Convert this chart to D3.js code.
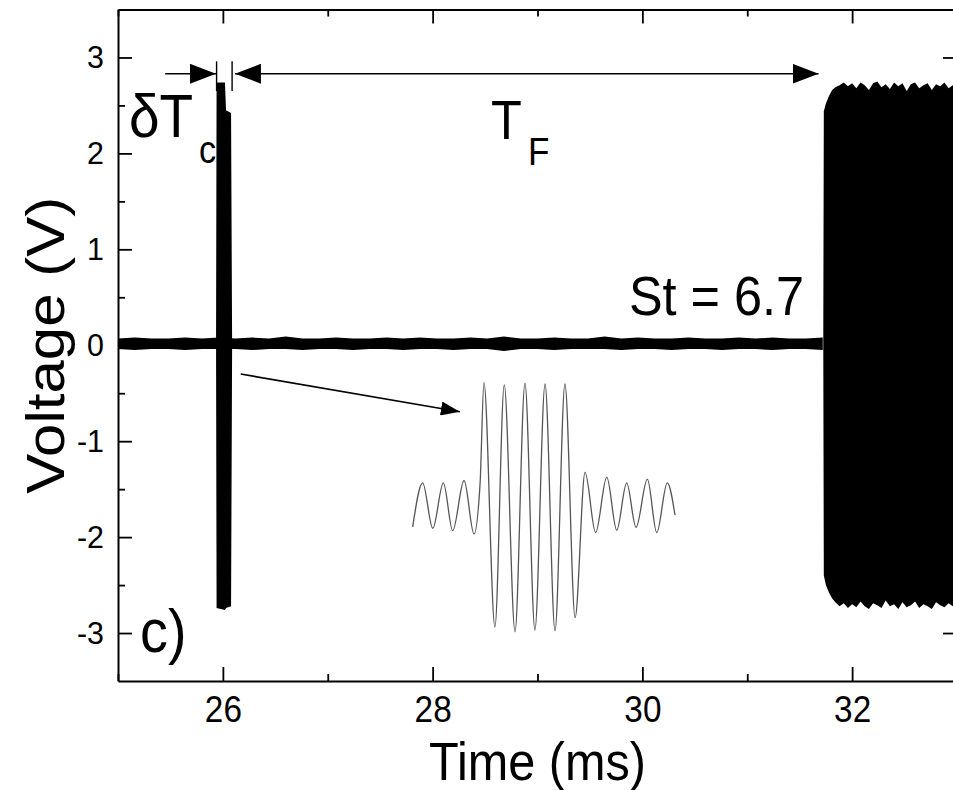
<!DOCTYPE html>
<html>
<head>
<meta charset="utf-8">
<script src="https://cdn.jsdelivr.net/npm/d3@7"></script>
<style>
  html, body { margin: 0; padding: 0; background: #fff; }
  svg { display: block; font-family: "Liberation Sans", Arial, Helvetica, sans-serif; }
</style>
</head>
<body>
<svg id="chart" width="953" height="790"></svg>
<script>
// Axis ticks
const xMajor = [26, 28, 30, 32];
const xMinor = [25, 27, 29, 31, 33];
const yMajor = [-3, -2, -1, 0, 1, 2, 3];
const yMinor = [-2.5, -1.5, -0.5, 0.5, 1.5, 2.5];

// Background noise band before the second burst (ms, V envelope)
const noiseT  = [25.00,25.16,25.32,25.48,25.64,25.80,25.96,26.12,26.28,26.44,26.60,26.76,26.92,27.08,27.24,27.40,27.56,27.72,27.88,28.04,28.20,28.36,28.52,28.68,28.84,29.00,29.16,29.32,29.48,29.64,29.80,29.96,30.12,30.28,30.44,30.60,30.76,30.92,31.08,31.24,31.40,31.56,31.72];
const noiseHi = [0.07,0.08,0.07,0.07,0.08,0.07,0.08,0.07,0.08,0.07,0.09,0.07,0.07,0.08,0.07,0.07,0.08,0.07,0.08,0.07,0.07,0.08,0.07,0.09,0.07,0.07,0.08,0.07,0.07,0.09,0.07,0.08,0.07,0.07,0.08,0.07,0.07,0.08,0.07,0.08,0.07,0.07,0.08];
const noiseLo = [-0.04,-0.05,-0.04,-0.04,-0.05,-0.04,-0.04,-0.04,-0.05,-0.04,-0.04,-0.05,-0.04,-0.04,-0.05,-0.04,-0.04,-0.05,-0.04,-0.04,-0.05,-0.04,-0.04,-0.06,-0.04,-0.04,-0.05,-0.04,-0.04,-0.04,-0.05,-0.04,-0.04,-0.05,-0.04,-0.04,-0.05,-0.04,-0.04,-0.05,-0.04,-0.04,-0.05];

// Short burst near 26 ms (envelope)
const burstCT  = [25.935, 25.94, 26.02, 26.03, 26.078, 26.088];
const burstCHi = [0.05, 2.74, 2.74, 2.45, 2.42, 0.05];
const burstCLo = [-0.04, -2.74, -2.76, -2.74, -2.72, -0.04];

// Long burst from ~31.7 ms (envelope)
const burstFT  = [31.725,31.73,31.75,31.78,31.81,31.84,31.88,31.92,31.96,32.00,32.04,32.08,32.12,32.16,32.20,32.24,32.28,32.32,32.36,32.40,32.44,32.48,32.52,32.56,32.60,32.64,32.68,32.72,32.76,32.80,32.84,32.88,32.92,32.96,33.00,33.05];
const burstFHi = [0.08,2.44,2.52,2.60,2.66,2.69,2.71,2.74,2.70,2.73,2.68,2.74,2.71,2.66,2.73,2.75,2.69,2.72,2.67,2.74,2.70,2.73,2.65,2.72,2.74,2.68,2.71,2.73,2.66,2.72,2.70,2.74,2.68,2.71,2.73,2.70];
const burstFLo = [-0.05,-2.40,-2.50,-2.58,-2.64,-2.68,-2.72,-2.69,-2.74,-2.70,-2.73,-2.67,-2.72,-2.75,-2.69,-2.71,-2.74,-2.66,-2.72,-2.70,-2.75,-2.68,-2.73,-2.71,-2.67,-2.74,-2.70,-2.72,-2.75,-2.68,-2.71,-2.73,-2.69,-2.72,-2.70,-2.74];

// Magnified waveform of the short burst: extrema in periods (t) and volts (v)
const insetT = [0,0.49,0.99,1.51,1.97,2.53,3.02,3.32,3.51,4.05,4.51,5.04,5.53,6.02,6.52,7.01,7.50,8.00,8.49,9.01,9.56,10.05,10.54,11.00,11.56,12.02,12.54,12.92];
const insetV = [-0.42,0.51,-0.45,0.51,-0.50,0.56,-0.57,0.51,2.63,-2.54,2.58,-2.64,2.62,-2.60,2.60,-2.62,2.60,-2.34,0.73,-0.54,0.63,-0.49,0.51,-0.43,0.59,-0.54,0.51,-0.17];

const svg = d3.select("#chart");
const L = 118, R = 957, T = 9.5, B = 681;

const x = d3.scaleLinear().domain([25, 33]).range([L, R]);
const y = d3.scaleLinear().domain([-3.5, 3.5]).range([B, T]);

// horizontally condense text to the narrow face used in the figure
function squish(sel, k) {
  sel.each(function () {
    const w = this.getComputedTextLength();
    d3.select(this).attr("textLength", w * k).attr("lengthAdjust", "spacingAndGlyphs");
  });
}

const defs = svg.append("defs");
defs.append("clipPath").attr("id", "plot")
  .append("rect").attr("x", L).attr("y", T).attr("width", R - L).attr("height", B - T);

function marker(id, len, half) {
  defs.append("marker").attr("id", id)
    .attr("viewBox", `0 ${-half} ${len} ${2 * half}`)
    .attr("markerWidth", len).attr("markerHeight", 2 * half)
    .attr("refX", len).attr("refY", 0)
    .attr("markerUnits", "userSpaceOnUse")
    .attr("orient", "auto-start-reverse")
    .append("path").attr("d", `M0,${-half}L${len},0L0,${half}Z`).attr("fill", "#000");
}
marker("headBig", 26, 10);
marker("headSmall", 19, 7);

// Signal envelopes
const plot = svg.append("g").attr("clip-path", "url(#plot)");
const band = (ts, hi, lo) => d3.area()
  .x((d, i) => x(ts[i])).y0((d, i) => y(lo[i])).y1((d, i) => y(hi[i]))(ts);

plot.append("path").attr("d", band(noiseT, noiseHi, noiseLo)).attr("fill", "#000");
plot.append("path").attr("d", band(burstCT, burstCHi, burstCLo)).attr("fill", "#000");
plot.append("path").attr("d", band(burstFT, burstFHi, burstFLo)).attr("fill", "#000");

// Inset: magnified short burst
const ix = d3.scaleLinear().domain([0, 12.92]).range([412.7, 675]);
const iy = d3.scaleLinear().domain([-2.6, 2.6]).range([630, 384]);
svg.append("path")
  .attr("d", d3.line().x((d, i) => ix(insetT[i])).y((d, i) => iy(insetV[i])).curve(d3.curveMonotoneX)(insetT))
  .attr("fill", "none").attr("stroke", "#555").attr("stroke-width", 1.3);

// Arrow pointing from the burst to the inset
svg.append("line")
  .attr("x1", x(26.17)).attr("y1", y(-0.30)).attr("x2", x(28.26)).attr("y2", y(-0.693))
  .attr("stroke", "#000").attr("stroke-width", 1.6).attr("marker-end", "url(#headSmall)");

// δTc and TF dimension arrows
svg.append("line")
  .attr("x1", x(25.45)).attr("y1", y(2.83)).attr("x2", x(25.934)).attr("y2", y(2.83))
  .attr("stroke", "#000").attr("stroke-width", 1.6).attr("marker-end", "url(#headBig)");
svg.append("line")
  .attr("x1", x(26.115)).attr("y1", y(2.83)).attr("x2", x(31.68)).attr("y2", y(2.83))
  .attr("stroke", "#000").attr("stroke-width", 1.6)
  .attr("marker-start", "url(#headBig)").attr("marker-end", "url(#headBig)");
[25.94, 26.088].forEach(t => {
  svg.append("line")
    .attr("x1", x(t)).attr("x2", x(t)).attr("y1", y(2.96)).attr("y2", y(2.65))
    .attr("stroke", "#000").attr("stroke-width", 1.4);
});

// Axes
function styleAxis(g) {
  g.selectAll("path.domain").attr("stroke", "#000").attr("stroke-width", 2);
  g.selectAll(".tick line").attr("stroke", "#000").attr("stroke-width", 1.8);
}
const fmt = d => String(d);

const gb = svg.append("g").attr("transform", `translate(0,${B})`)
  .call(d3.axisBottom(x).tickValues(xMajor).tickSize(-14).tickSizeOuter(0).tickPadding(15).tickFormat(fmt));
gb.call(styleAxis);
gb.selectAll("text").attr("font-size", 37).attr("fill", "#000").attr("font-family", null);
svg.append("g").attr("transform", `translate(0,${B})`)
  .call(d3.axisBottom(x).tickValues(xMinor).tickSize(-7).tickFormat(""))
  .call(g => g.select(".domain").remove()).call(styleAxis);

const gt = svg.append("g").attr("transform", `translate(0,${T})`)
  .call(d3.axisTop(x).tickValues(xMajor).tickSize(-14).tickSizeOuter(0).tickFormat(""));
gt.call(styleAxis);
svg.append("g").attr("transform", `translate(0,${T})`)
  .call(d3.axisTop(x).tickValues(xMinor).tickSize(-7).tickFormat(""))
  .call(g => g.select(".domain").remove()).call(styleAxis);

const gl = svg.append("g").attr("transform", `translate(${L},0)`)
  .call(d3.axisLeft(y).tickValues(yMajor).tickSize(-14).tickSizeOuter(0).tickPadding(14).tickFormat(fmt));
gl.call(styleAxis);
gl.selectAll("text").attr("font-size", 32).attr("fill", "#000").attr("font-family", null);
svg.append("g").attr("transform", `translate(${L},0)`)
  .call(d3.axisLeft(y).tickValues(yMinor).tickSize(-7).tickFormat(""))
  .call(g => g.select(".domain").remove()).call(styleAxis);

const gr = svg.append("g").attr("transform", `translate(${R},0)`)
  .call(d3.axisRight(y).tickValues(yMajor).tickSize(-14).tickSizeOuter(0).tickFormat(""));
gr.call(styleAxis);
svg.append("g").attr("transform", `translate(${R},0)`)
  .call(d3.axisRight(y).tickValues(yMinor).tickSize(-7).tickFormat(""))
  .call(g => g.select(".domain").remove()).call(styleAxis);

squish(gb.selectAll("text"), 0.9);
squish(gl.selectAll("text"), 0.95);

// Labels and annotations
function label(txt, px, py, size, anchor) {
  const t = svg.append("text").attr("x", px).attr("y", py)
    .attr("font-size", size).attr("text-anchor", anchor || "start").attr("fill", "#000").text(txt);
  squish(t, 0.9);
  return t;
}
label("Time (ms)", (L + R) / 2, 779.5, 54, "middle");
label("δT", 129, 137, 61);
label("c", 199, 163, 38);
label("T", 491, 139, 56);
label("F", 528, 165, 39);
label("St = 6.7", 629, 315, 56);
label("c)", 140, 652, 62);

svg.append("text")
  .attr("transform", `translate(64,${(T + B) / 2}) rotate(-90) scale(1,0.9)`)
  .attr("text-anchor", "middle").attr("font-size", 60).attr("fill", "#000")
  .text("Voltage (V)");
</script>
</body>
</html>
